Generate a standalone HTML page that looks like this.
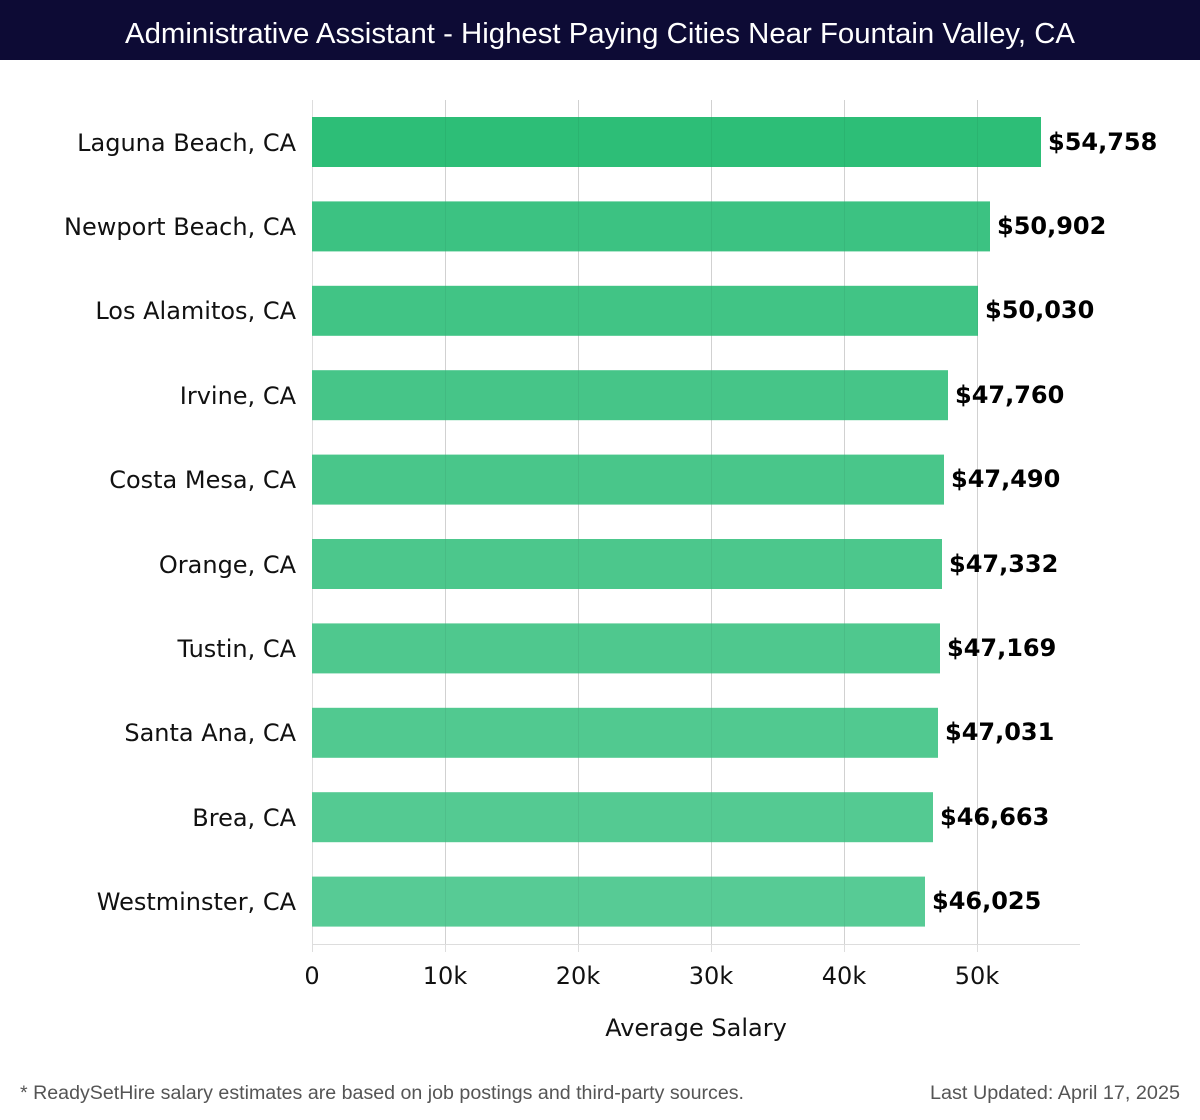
<!DOCTYPE html>
<html><head><meta charset="utf-8"><style>
html,body{margin:0;padding:0;background:#fff;width:1200px;height:1120px;overflow:hidden}
</style></head><body>
<svg width="1200" height="1120" xmlns="http://www.w3.org/2000/svg" font-family="DejaVu Sans, Liberation Sans, sans-serif">
<rect x="0" y="0" width="1200" height="60" fill="#0d0b35"/>
<text x="125" y="43" fill="#fff" font-size="29" font-family="Liberation Sans, sans-serif" textLength="950" lengthAdjust="spacingAndGlyphs">Administrative Assistant - Highest Paying Cities Near Fountain Valley, CA</text>
<g stroke="#dddddd" stroke-width="1">
<line x1="312.5" y1="100" x2="312.5" y2="952"/>
<line x1="445.5" y1="100" x2="445.5" y2="952"/>
<line x1="578.5" y1="100" x2="578.5" y2="952"/>
<line x1="711.5" y1="100" x2="711.5" y2="952"/>
<line x1="844.5" y1="100" x2="844.5" y2="952"/>
<line x1="977.5" y1="100" x2="977.5" y2="952"/>
<line x1="312" y1="944.5" x2="1080" y2="944.5"/>
</g>
<g>
<rect x="312" y="117" width="729" height="50" fill="#2dbe77"/>
<rect x="312" y="201.4" width="678" height="50" fill="#3cc282"/>
<rect x="312" y="285.8" width="666" height="50" fill="#41c485"/>
<rect x="312" y="370.2" width="636" height="50" fill="#46c588"/>
<rect x="312" y="454.6" width="632" height="50" fill="#49c68a"/>
<rect x="312" y="539" width="630" height="50" fill="#4cc78c"/>
<rect x="312" y="623.4" width="628" height="50" fill="#4fc88e"/>
<rect x="312" y="707.8" width="626" height="50" fill="#51c990"/>
<rect x="312" y="792.2" width="621" height="50" fill="#54ca92"/>
<rect x="312" y="876.6" width="613" height="50" fill="#57cb95"/>
</g>
<g stroke="#000" stroke-opacity="0.05" stroke-width="1">
<line x1="445.5" y1="100" x2="445.5" y2="944"/>
<line x1="578.5" y1="100" x2="578.5" y2="944"/>
<line x1="711.5" y1="100" x2="711.5" y2="944"/>
<line x1="844.5" y1="100" x2="844.5" y2="944"/>
<line x1="977.5" y1="100" x2="977.5" y2="944"/>
</g>
<g font-size="24" fill="#111" text-anchor="end">
<text x="296" y="151">Laguna Beach, CA</text>
<text x="296" y="235">Newport Beach, CA</text>
<text x="296" y="319">Los Alamitos, CA</text>
<text x="296" y="404">Irvine, CA</text>
<text x="296" y="488">Costa Mesa, CA</text>
<text x="296" y="573">Orange, CA</text>
<text x="296" y="657">Tustin, CA</text>
<text x="296" y="741">Santa Ana, CA</text>
<text x="296" y="826">Brea, CA</text>
<text x="296" y="910">Westminster, CA</text>
</g>
<g font-size="24" fill="#000" font-weight="bold">
<text x="1048" y="150">$54,758</text>
<text x="997" y="234">$50,902</text>
<text x="985" y="318">$50,030</text>
<text x="955" y="403">$47,760</text>
<text x="951" y="487">$47,490</text>
<text x="949" y="572">$47,332</text>
<text x="947" y="656">$47,169</text>
<text x="945" y="740">$47,031</text>
<text x="940" y="825">$46,663</text>
<text x="932" y="909">$46,025</text>
</g>
<g font-size="24" fill="#111" text-anchor="middle">
<text x="312" y="984">0</text>
<text x="445" y="984">10k</text>
<text x="578" y="984">20k</text>
<text x="711" y="984">30k</text>
<text x="844" y="984">40k</text>
<text x="977" y="984">50k</text>
<text x="696" y="1036">Average Salary</text>
</g>
<text x="20" y="1099" font-size="19" fill="#555" font-family="Liberation Sans, sans-serif" textLength="724" lengthAdjust="spacingAndGlyphs">* ReadySetHire salary estimates are based on job postings and third-party sources.</text>
<text x="930" y="1099" font-size="19" fill="#555" font-family="Liberation Sans, sans-serif" textLength="250" lengthAdjust="spacingAndGlyphs">Last Updated: April 17, 2025</text>
</svg>
</body></html>
